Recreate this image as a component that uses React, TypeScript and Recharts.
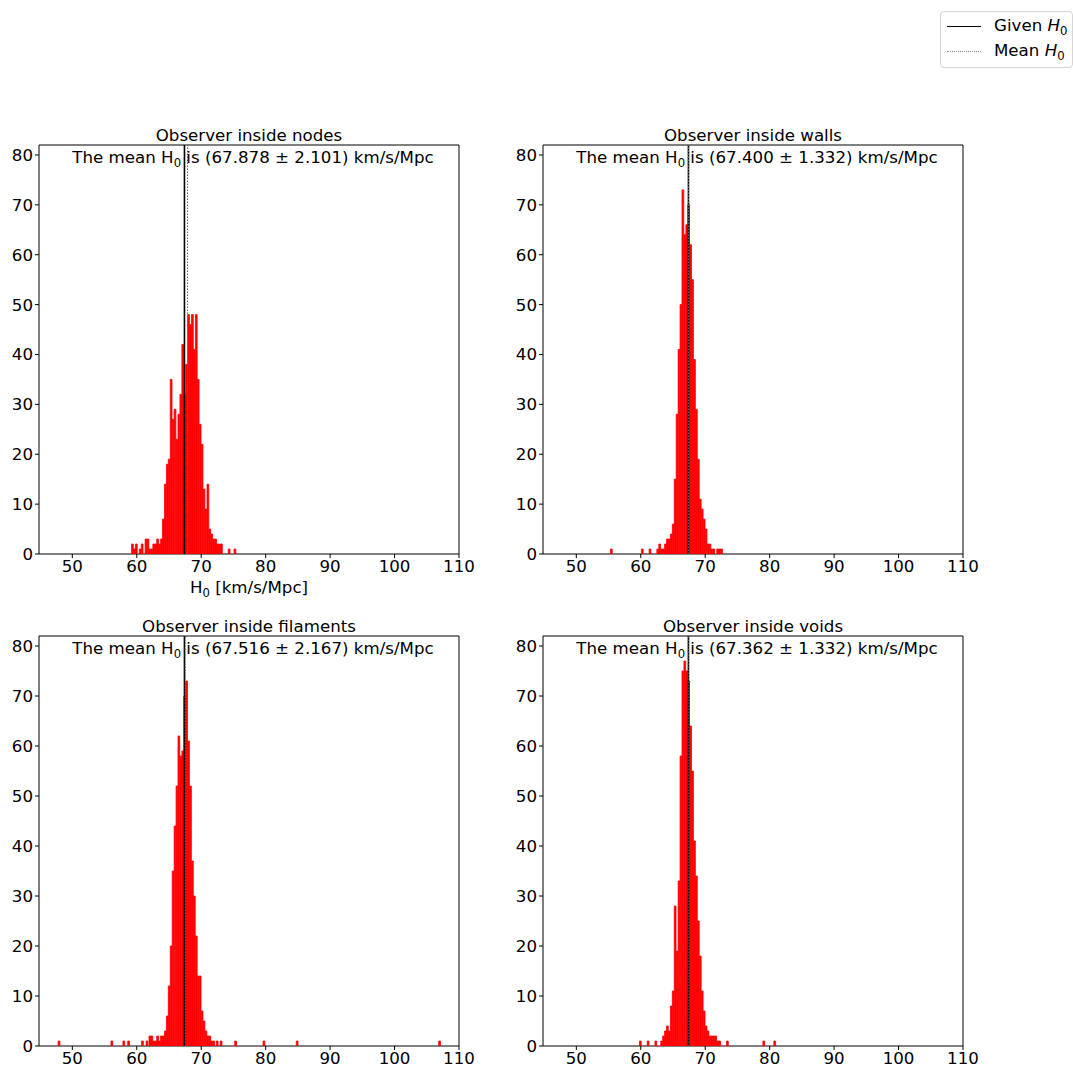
import { BarChart, Bar, XAxis, YAxis, ReferenceLine, ReferenceArea } from "recharts";

// histogram bins (bin width 0.3 km/s/Mpc)
const BIN_WIDTH = 0.3;
const GIVEN_H0 = 67.4;

const X_TICKS = [50, 60, 70, 80, 90, 100, 110];
const Y_TICKS = [0, 10, 20, 30, 40, 50, 60, 70, 80];

const TITLES = [
	"Observer inside nodes",
	"Observer inside walls",
	"Observer inside filaments",
	"Observer inside voids",
];
const MEANS = [67.878, 67.4, 67.516, 67.362];
const ERRORS = [2.101, 1.332, 2.167, 1.332];

// centre of the first bin of each panel
const FIRST_BINS = [59.35, 60.25, 62.05, 59.95];

const NODES_COUNTS = [
	2, 1, 2, 0, 1, 2, 0, 3, 3, 1, 1, 2, 2, 3, 2, 3, 7, 14, 18, 19, 35, 27, 29, 23, 28, 32, 42, 32, 38, 48,
	46, 48, 41, 48, 35, 26, 22, 13, 9, 14, 5, 4, 3, 3, 2, 2, 2, 0, 0, 0, 1, 0, 0, 1,
];
const WALLS_COUNTS = [
	1, 0, 0, 0, 1, 0, 0, 0, 1, 2, 1, 1, 2, 3, 3, 4, 6, 15, 28, 41, 50, 73, 64, 66, 70, 62, 55, 39, 29, 19,
	11, 9, 7, 5, 2, 2, 1, 1, 0, 1, 1, 1,
];
const FILAMENTS_COUNTS = [
	2, 2, 1, 1, 2, 1, 2, 2, 3, 6, 12, 20, 35, 44, 52, 62, 58, 59, 70, 73, 61, 52, 37, 30, 22, 14, 14, 7, 5, 3,
	2, 2, 1, 1,
];
const VOIDS_COUNTS = [
	1, 0, 0, 0, 1, 0, 0, 0, 1, 0, 0, 1, 2, 3, 4, 3, 8, 11, 28, 19, 33, 58, 75, 77, 75, 73, 64, 55, 41, 34,
	25, 18, 11, 7, 4, 3, 2, 2, 2, 2, 1, 1, 0, 0, 0, 1,
];

// isolated bins outside the main block: [H0, count]
const NODES_OUTLIERS: [number, number][] = [];
const WALLS_OUTLIERS: [number, number][] = [[55.45, 1]];
const FILAMENTS_OUTLIERS: [number, number][] = [
	[47.95, 1],
	[56.15, 1],
	[58.0, 1],
	[58.75, 1],
	[60.9, 1],
	[61.6, 1],
	[72.5, 1],
	[73.1, 1],
	[75.35, 1],
	[79.75, 1],
	[84.9, 1],
	[107.0, 1],
];
const VOIDS_OUTLIERS: [number, number][] = [
	[79.1, 1],
	[80.8, 1],
];

const COUNTS = [NODES_COUNTS, WALLS_COUNTS, FILAMENTS_COUNTS, VOIDS_COUNTS];
const OUTLIERS = [NODES_OUTLIERS, WALLS_OUTLIERS, FILAMENTS_OUTLIERS, VOIDS_OUTLIERS];

const X_DOMAIN: [number, number] = [44.83, 110];
const Y_DOMAIN: [number, number] = [0, 82];

const FONT = "'DejaVu Sans', sans-serif";
const FS = 16.67;

const PANELS = [
	{ left: 39, top: 145, h: 409 },
	{ left: 543, top: 145, h: 409 },
	{ left: 39, top: 636, h: 410 },
	{ left: 543, top: 636, h: 410 },
];
const PLOT_W = 420;

const buildData = (idx: number) => {
	const core = COUNTS[idx].map((c, i) => ({ x: FIRST_BINS[idx] + i * BIN_WIDTH, count: c }));
	const extra = OUTLIERS[idx].map(([x, c]) => ({ x, count: c }));
	return [...core, ...extra].filter((d) => d.count > 0).sort((a, b) => a.x - b.x);
};

const tickStyle = { fontSize: FS, fill: "#000", fontFamily: FONT };

const Panel = ({ idx }: { idx: number }) => {
	const p = PANELS[idx];
	const data = buildData(idx);
	return (
		<>
			<div
				style={{
					position: "absolute",
					left: p.left,
					top: p.top - 19,
					width: PLOT_W,
					textAlign: "center",
					fontSize: FS,
					lineHeight: "20px",
				}}
			>
				{TITLES[idx]}
			</div>
			<div style={{ position: "absolute", left: p.left - 39, top: p.top - 10 }}>
				<BarChart
					width={39 + PLOT_W + 21}
					height={p.h + 40}
					data={data}
					margin={{ top: 10, right: 21, left: 0, bottom: 0 }}
				>
					<XAxis
						type='number'
						dataKey='x'
						domain={X_DOMAIN}
						allowDataOverflow
						ticks={X_TICKS}
						interval={0}
						height={30}
						axisLine={false}
						tickLine={{ stroke: "#000" }}
						tickSize={4}
						tick={tickStyle}
					/>
					<YAxis
						type='number'
						domain={Y_DOMAIN}
						allowDataOverflow
						ticks={Y_TICKS}
						interval={0}
						width={39}
						axisLine={false}
						tickLine={{ stroke: "#000" }}
						tickSize={4}
						tick={tickStyle}
					/>
					<Bar
						dataKey='count'
						fill='#ff0000'
						stroke='#ff0000'
						strokeWidth={0.8}
						barSize={2}
						isAnimationActive={false}
					/>
					<ReferenceLine x={GIVEN_H0} stroke='#000' strokeWidth={1.6} />
					<ReferenceLine x={MEANS[idx]} stroke='#666' strokeWidth={1} strokeDasharray='1.5 1.5' />
					<ReferenceArea
						x1={X_DOMAIN[0]}
						x2={X_DOMAIN[1]}
						y1={Y_DOMAIN[0]}
						y2={Y_DOMAIN[1]}
						fill='none'
						stroke='#000'
						strokeWidth={1}
						fillOpacity={0}
					/>
				</BarChart>
			</div>
			<div
				style={{
					position: "absolute",
					left: p.left + 4,
					top: p.top + 3,
					width: PLOT_W,
					textAlign: "center",
					fontSize: FS,
					lineHeight: "20px",
					whiteSpace: "nowrap",
				}}
			>
				The mean H<sub style={{ fontSize: "0.7em" }}>0</sub> is ({MEANS[idx].toFixed(3)} ±{" "}
				{ERRORS[idx].toFixed(3)}) km/s/Mpc
			</div>
		</>
	);
};

const App = () => {
	return (
		<div
			style={{
				position: "absolute",
				left: 0,
				top: 0,
				width: 1073,
				height: 1068,
				overflow: "hidden",
				background: "#fff",
				fontFamily: FONT,
				color: "#000",
			}}
		>
			{[0, 1, 2, 3].map((i) => (
				<Panel key={i} idx={i} />
			))}
			<div
				style={{
					position: "absolute",
					left: 39,
					top: 577,
					width: PLOT_W,
					textAlign: "center",
					fontSize: FS,
					lineHeight: "22px",
				}}
			>
				H<sub style={{ fontSize: "0.7em" }}>0</sub> [km/s/Mpc]
			</div>
			<div
				style={{
					position: "absolute",
					left: 940,
					top: 11,
					width: 133,
					height: 57,
					border: "1px solid #d6d6d6",
					borderRadius: 4,
					boxSizing: "border-box",
					fontSize: FS,
				}}
			>
				<div style={{ position: "absolute", left: 6, top: 14, width: 34, borderTop: "1.6px solid #000" }} />
				<div style={{ position: "absolute", left: 53, top: 3, lineHeight: "22px", whiteSpace: "nowrap" }}>
					Given <i>H</i>
					<sub style={{ fontSize: "0.7em" }}>0</sub>
				</div>
				<div style={{ position: "absolute", left: 6, top: 39, width: 34, borderTop: "1px dotted #888" }} />
				<div style={{ position: "absolute", left: 53, top: 28, lineHeight: "22px", whiteSpace: "nowrap" }}>
					Mean <i>H</i>
					<sub style={{ fontSize: "0.7em" }}>0</sub>
				</div>
			</div>
		</div>
	);
};

export default App;
